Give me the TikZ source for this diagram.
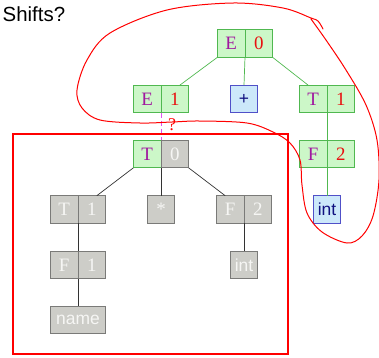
\documentclass[tikz,border=0pt]{standalone}
\usepackage{fontspec}
\setmainfont{Liberation Serif}
\setsansfont{Liberation Sans}
\usetikzlibrary{positioning}

\definecolor{symcol}{HTML}{A0189F}
\definecolor{numcol}{HTML}{E81010}
\definecolor{livefill}{HTML}{CCF7C8}
\definecolor{liveline}{HTML}{50B850}
\definecolor{tokfill}{HTML}{CCE8FA}
\definecolor{tokline}{HTML}{5050C8}
\definecolor{tokcol}{HTML}{101080}
\definecolor{donefill}{HTML}{CDCDC8}
\definecolor{doneline}{HTML}{7A7A78}
\definecolor{donecol}{HTML}{F6F6F4}
\definecolor{dashcol}{HTML}{E050F0}

\tikzset{
	cell/.style={draw, line width=0.8bp, minimum width=27.6bp, minimum height=27.6bp,
		inner sep=0pt, outer sep=0pt, font=\fontsize{19}{19}\selectfont},
	word/.style={font=\sffamily\fontsize{17.5}{18}\selectfont},
	live/.style={cell, fill=livefill, draw=liveline},
	tok/.style={cell, word, fill=tokfill, draw=tokline, text=tokcol},
	done/.style={cell, fill=donefill, draw=doneline, text=donecol},
	sym/.style={text=symcol},
	num/.style={text=numcol},
	liveedge/.style={draw=liveline, line width=0.7bp},
	doneedge/.style={draw=black!80, line width=0.7bp},
	scrawl/.style={draw=red, line width=1bp, line cap=round, line join=round},
}

\begin{document}
\begin{tikzpicture}[x=1bp, y=-1bp]
	\useasboundingbox (0,0) rectangle (379,358);

	\node[anchor=base west, inner sep=0pt, font=\sffamily\fontsize{20.5}{21}\selectfont] (title) at (2.5,21.5) {Shifts?};

	% stack part, still live
	\node[live, sym, anchor=east] (e0) at (245,43.5) {E};
	\node[live, num, right=0pt of e0] (e0n) {0};
	\node[live, sym, anchor=east] (e1) at (161,99) {E};
	\node[live, num, right=0pt of e1] (e1n) {1};
	\node[tok] (plus) at (244,99) {+};
	\node[live, sym, anchor=east] (t1) at (327,99) {T};
	\node[live, num, right=0pt of t1] (t1n) {1};
	\node[live, sym, anchor=east] (f2) at (327,154) {F};
	\node[live, num, right=0pt of f2] (f2n) {2};
	\node[tok] (int) at (327,209.5) {int};

	% subtree already reduced
	\node[live, sym, anchor=east] (t0) at (161,154) {T};
	\node[done, right=0pt of t0] (t0n) {0};
	\node[done, anchor=east] (gt1) at (78,209.5) {T};
	\node[done, right=0pt of gt1] (gt1n) {1};
	\node[done] (star) at (161,209.5) {*};
	\node[done, anchor=east] (gf2) at (244,209.5) {F};
	\node[done, right=0pt of gf2] (gf2n) {2};
	\node[done, anchor=east] (gf1) at (78,265) {F};
	\node[done, right=0pt of gf1] (gf1n) {1};
	\node[done, word] (gint) at (244,265) {int};
	\node[done, word, minimum width=55.2bp] (name) at (78,320) {name};

	\path[liveedge]
	(e0.south west) edge ([xshift=5bp]e1n.north)
	(e0n.south west) edge (plus.north)
	(e0n.south east) edge ([xshift=-5bp]t1.north)
	(t1.south east) edge (f2.north east)
	(f2.south east) edge (int.north);

	\path[doneedge]
	(t0.south west) edge ([xshift=5bp]gt1n.north)
	(t0n.south west) edge (star.north)
	(t0n.south east) edge ([xshift=-5bp]gf2.north)
	(gt1.south east) edge (gf1.north east)
	(gf1.south east) edge (name.north)
	(gf2.south east) edge (gint.north);

	\draw[dashcol, dash pattern=on 5bp off 3bp, line width=0.8bp] (e1.south east) -- (t0.north east);

	% hand-drawn marks
	\node[text=red, font=\fontsize{18}{18}\selectfont, inner sep=0pt] (ask) at (172,125) {?};
	\draw[red, line width=1.3bp] (13,134) rectangle (288,354);
	\draw[scrawl] plot[smooth, tension=0.55] coordinates {
		(323,29) (318,21) (311,18) (283,8) (233,3) (167,10) (110,33) (87,60) (77,90)
		(82,108) (100,120) (140,123) (172,122) (200,121) (247,123) (273,132)
		(290,143) (300,160) (302,185) (307,213) (322,232) (347,243) (362,236)
		(373,216) (379,180) (377,140) (366,105) (346,70) (326,40) (311,19)};
\end{tikzpicture}
\end{document}
